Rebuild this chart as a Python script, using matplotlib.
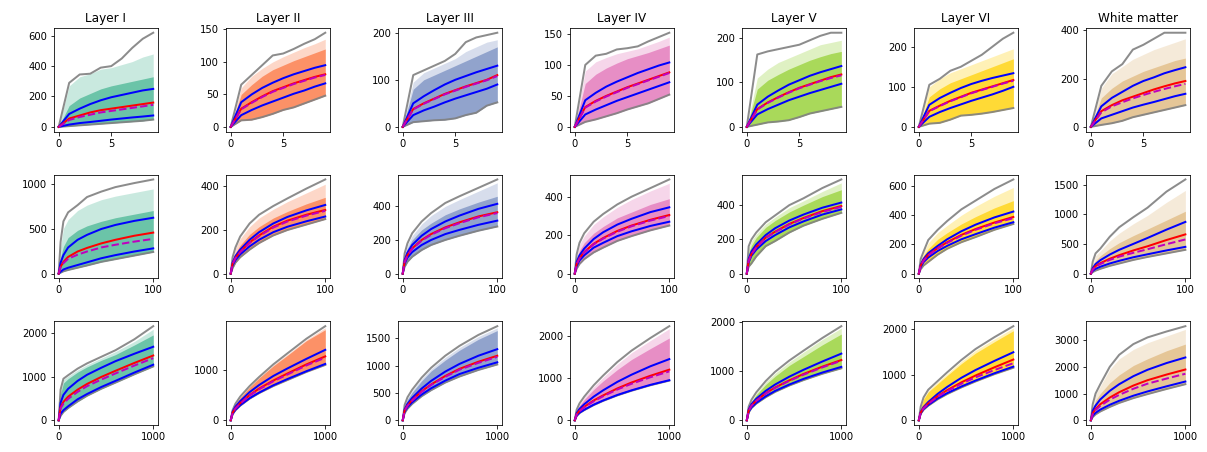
import matplotlib
matplotlib.use("Agg")
from matplotlib import pyplot

layers = ["Layer I", "Layer II", "Layer III", "Layer IV", "Layer V", "Layer VI", "White matter"]
colours = ["#66c2a5", "#fc8d62", "#8da0cb", "#e78ac3", "#a6d854", "#ffd92f", "#e5c494"]

# row 1: steps 0..9
x_short = [0, 1, 2, 3, 4, 5, 6, 7, 8, 9]
short_max = [
    [0, 290, 345, 350, 390, 400, 450, 520, 580, 620],
    [0, 65, 80, 95, 110, 113, 120, 128, 135, 145],
    [0, 110, 120, 130, 140, 155, 180, 190, 195, 200],
    [0, 100, 115, 118, 125, 127, 130, 138, 145, 152],
    [0, 163, 170, 175, 180, 185, 195, 205, 212, 212],
    [0, 105, 120, 140, 150, 165, 180, 200, 220, 235],
    [0, 170, 230, 260, 320, 340, 365, 390, 390, 390],
]
short_fan = [
    [0, 270, 330, 350, 380, 390, 410, 430, 460, 480],
    [0, 60, 78, 90, 100, 108, 115, 122, 128, 135],
    [0, 95, 115, 125, 135, 145, 160, 170, 180, 185],
    [0, 90, 105, 112, 118, 122, 126, 132, 138, 145],
    [0, 110, 130, 145, 155, 165, 175, 185, 190, 195],
    [0, 100, 120, 135, 145, 155, 165, 175, 185, 195],
    [0, 160, 220, 250, 280, 300, 320, 335, 350, 365],
]
short_dense = [
    [0, 140, 190, 220, 250, 270, 285, 300, 315, 330],
    [0, 50, 65, 78, 88, 95, 102, 108, 114, 120],
    [0, 80, 100, 110, 120, 130, 140, 150, 160, 170],
    [0, 70, 85, 95, 103, 110, 115, 120, 126, 132],
    [0, 85, 105, 118, 130, 140, 150, 158, 165, 170],
    [0, 75, 95, 110, 120, 130, 140, 150, 160, 170],
    [0, 120, 160, 190, 210, 230, 245, 260, 275, 285],
]
short_upper = [
    [0, 85, 120, 150, 175, 195, 210, 225, 240, 250],
    [0, 38, 50, 60, 68, 75, 81, 86, 91, 95],
    [0, 50, 65, 78, 90, 100, 108, 116, 123, 130],
    [0, 43, 55, 65, 73, 80, 87, 93, 99, 104],
    [0, 50, 68, 82, 95, 105, 115, 123, 130, 137],
    [0, 55, 72, 85, 97, 107, 115, 122, 128, 134],
    [0, 85, 120, 145, 170, 190, 205, 222, 235, 247],
]
short_mean = [
    [0, 55, 75, 95, 110, 120, 130, 140, 150, 160],
    [0, 28, 38, 47, 55, 61, 67, 72, 77, 81],
    [0, 38, 50, 60, 70, 78, 86, 93, 100, 110],
    [0, 32, 42, 50, 57, 64, 70, 76, 82, 88],
    [0, 40, 55, 67, 78, 88, 96, 104, 112, 118],
    [0, 40, 53, 65, 75, 85, 93, 101, 109, 117],
    [0, 65, 90, 110, 125, 140, 155, 168, 180, 190],
]
short_median = [
    [0, 45, 65, 80, 95, 105, 115, 125, 135, 145],
    [0, 27, 37, 46, 54, 60, 66, 71, 76, 80],
    [0, 37, 49, 59, 69, 77, 85, 92, 99, 108],
    [0, 31, 41, 49, 56, 63, 69, 75, 81, 87],
    [0, 39, 54, 66, 77, 87, 95, 103, 110, 116],
    [0, 39, 52, 64, 74, 84, 92, 100, 108, 115],
    [0, 60, 85, 102, 118, 132, 145, 157, 168, 178],
]
short_lower = [
    [0, 15, 25, 32, 40, 48, 55, 62, 68, 75],
    [0, 18, 26, 33, 39, 45, 51, 56, 62, 67],
    [0, 25, 35, 43, 52, 60, 67, 74, 81, 90],
    [0, 20, 28, 35, 42, 48, 54, 60, 66, 72],
    [0, 28, 40, 50, 60, 68, 76, 83, 90, 97],
    [0, 25, 37, 47, 56, 65, 73, 81, 90, 100],
    [0, 35, 50, 65, 80, 92, 103, 115, 127, 137],
]
short_min = [
    [0, 5, 10, 15, 20, 25, 30, 35, 40, 48],
    [0, 10, 11, 15, 20, 26, 30, 36, 42, 48],
    [0, 10, 12, 14, 15, 18, 25, 30, 45, 52],
    [0, 8, 12, 17, 22, 28, 33, 38, 45, 52],
    [0, 5, 10, 12, 15, 22, 30, 35, 40, 45],
    [0, 8, 10, 18, 28, 30, 33, 37, 42, 47],
    [0, 8, 15, 25, 40, 50, 60, 70, 80, 90],
]

# row 2: steps 0..100
x_mid = [0, 2, 5, 10, 20, 30, 45, 60, 80, 100]
mid_max = [
    [0, 350, 580, 680, 760, 850, 910, 960, 1005, 1045],
    [0, 75, 120, 170, 230, 270, 310, 345, 390, 432],
    [0, 120, 180, 240, 310, 360, 420, 460, 510, 560],
    [0, 100, 160, 210, 270, 310, 360, 400, 445, 490],
    [0, 160, 200, 240, 300, 340, 400, 440, 500, 550],
    [0, 100, 150, 230, 300, 360, 440, 500, 580, 645],
    [0, 200, 340, 420, 620, 780, 950, 1110, 1380, 1585],
]
mid_fan = [
    [0, 300, 500, 600, 700, 760, 820, 860, 900, 940],
    [0, 70, 115, 160, 215, 255, 295, 330, 370, 410],
    [0, 110, 170, 225, 295, 345, 400, 440, 490, 540],
    [0, 95, 150, 195, 255, 295, 345, 385, 430, 470],
    [0, 150, 190, 230, 290, 330, 385, 425, 480, 530],
    [0, 95, 145, 210, 280, 330, 400, 460, 530, 590],
    [0, 180, 300, 380, 550, 680, 840, 980, 1200, 1400],
]
mid_dense = [
    [0, 180, 300, 400, 480, 530, 580, 620, 660, 700],
    [0, 60, 95, 130, 180, 215, 255, 285, 320, 350],
    [0, 100, 150, 200, 260, 300, 350, 385, 425, 460],
    [0, 75, 120, 160, 210, 245, 290, 320, 360, 390],
    [0, 120, 165, 210, 270, 310, 360, 400, 450, 490],
    [0, 80, 125, 170, 235, 280, 340, 390, 450, 500],
    [0, 140, 220, 300, 420, 520, 640, 750, 900, 1050],
]
mid_upper = [
    [0, 120, 205, 290, 375, 430, 495, 540, 585, 620],
    [0, 50, 80, 110, 155, 190, 230, 260, 290, 315],
    [0, 80, 125, 170, 225, 265, 310, 345, 385, 415],
    [0, 60, 95, 130, 180, 215, 255, 285, 320, 345],
    [0, 85, 130, 170, 225, 265, 310, 345, 385, 415],
    [0, 60, 100, 140, 190, 235, 290, 335, 385, 425],
    [0, 90, 160, 225, 320, 400, 500, 600, 740, 870],
]
mid_mean = [
    [0, 75, 130, 185, 245, 285, 335, 375, 420, 455],
    [0, 45, 72, 100, 143, 175, 215, 243, 270, 292],
    [0, 70, 110, 150, 200, 235, 275, 305, 340, 365],
    [0, 50, 80, 112, 155, 185, 222, 250, 280, 305],
    [0, 75, 115, 155, 210, 245, 290, 325, 365, 395],
    [0, 55, 90, 128, 175, 215, 265, 305, 350, 388],
    [0, 70, 125, 175, 250, 310, 390, 460, 565, 660],
]
mid_median = [
    [0, 70, 115, 165, 210, 245, 290, 320, 355, 385],
    [0, 44, 70, 98, 140, 172, 211, 239, 266, 288],
    [0, 68, 108, 147, 196, 231, 270, 300, 335, 360],
    [0, 48, 78, 110, 152, 182, 218, 246, 276, 300],
    [0, 73, 113, 152, 207, 242, 287, 322, 360, 390],
    [0, 53, 88, 125, 172, 210, 260, 300, 345, 380],
    [0, 65, 115, 160, 230, 285, 350, 410, 495, 575],
]
mid_lower = [
    [0, 20, 45, 65, 95, 125, 170, 205, 245, 280],
    [0, 38, 62, 88, 125, 155, 190, 215, 240, 262],
    [0, 60, 95, 128, 170, 200, 235, 260, 290, 315],
    [0, 40, 68, 95, 135, 160, 195, 220, 248, 270],
    [0, 65, 105, 140, 190, 225, 270, 305, 345, 375],
    [0, 45, 78, 110, 155, 190, 235, 270, 315, 352],
    [0, 45, 80, 115, 170, 215, 275, 325, 390, 450],
]
mid_min = [
    [0, 10, 25, 40, 65, 90, 130, 160, 200, 240],
    [0, 25, 50, 75, 110, 140, 175, 200, 225, 250],
    [0, 40, 70, 100, 140, 170, 200, 225, 255, 280],
    [0, 25, 50, 75, 110, 135, 170, 195, 225, 250],
    [0, 40, 60, 100, 160, 190, 240, 280, 320, 355],
    [0, 30, 55, 80, 130, 170, 215, 250, 300, 340],
    [0, 25, 50, 80, 130, 170, 230, 280, 340, 400],
]

# row 3: steps 0..1000
x_long = [0, 20, 50, 100, 200, 300, 450, 600, 800, 1000]
long_max = [
    [0, 700, 950, 1030, 1180, 1300, 1450, 1600, 1850, 2150],
    [0, 200, 330, 470, 680, 860, 1110, 1330, 1620, 1870],
    [0, 280, 420, 560, 780, 960, 1180, 1360, 1560, 1720],
    [0, 250, 400, 560, 830, 1060, 1380, 1650, 1950, 2230],
    [0, 280, 420, 570, 800, 990, 1220, 1420, 1680, 1920],
    [0, 300, 500, 670, 860, 1050, 1320, 1560, 1820, 2060],
    [0, 600, 1000, 1350, 2000, 2450, 2850, 3100, 3320, 3520],
]
long_fan = [
    [0, 680, 930, 1010, 1150, 1270, 1420, 1570, 1800, 2080],
    [0, 195, 320, 460, 670, 850, 1100, 1310, 1600, 1840],
    [0, 270, 400, 540, 760, 940, 1150, 1330, 1530, 1690],
    [0, 240, 380, 540, 800, 1020, 1330, 1600, 1890, 2170],
    [0, 270, 405, 550, 780, 960, 1190, 1390, 1650, 1880],
    [0, 290, 480, 650, 840, 1020, 1290, 1530, 1780, 2020],
    [0, 560, 950, 1280, 1900, 2300, 2650, 2900, 3150, 3400],
]
long_dense = [
    [0, 600, 850, 950, 1100, 1220, 1370, 1500, 1720, 1950],
    [0, 190, 315, 450, 660, 840, 1080, 1290, 1580, 1800],
    [0, 250, 380, 510, 720, 900, 1100, 1280, 1480, 1640],
    [0, 220, 350, 490, 730, 930, 1200, 1440, 1700, 1950],
    [0, 250, 380, 520, 730, 900, 1120, 1300, 1540, 1760],
    [0, 280, 460, 620, 800, 980, 1240, 1470, 1720, 1960],
    [0, 450, 750, 1000, 1400, 1700, 2050, 2300, 2600, 2850],
]
long_upper = [
    [0, 400, 580, 720, 900, 1040, 1200, 1350, 1520, 1680],
    [0, 170, 270, 380, 560, 700, 880, 1030, 1220, 1400],
    [0, 200, 300, 410, 580, 720, 890, 1030, 1180, 1300],
    [0, 170, 270, 380, 560, 710, 910, 1080, 1280, 1450],
    [0, 220, 330, 440, 600, 730, 890, 1030, 1200, 1360],
    [0, 180, 290, 400, 580, 730, 930, 1100, 1300, 1490],
    [0, 350, 550, 780, 1100, 1350, 1650, 1890, 2140, 2350],
]
long_mean = [
    [0, 300, 420, 540, 700, 830, 990, 1130, 1310, 1480],
    [0, 150, 240, 340, 500, 630, 790, 930, 1110, 1270],
    [0, 180, 270, 370, 530, 655, 810, 940, 1070, 1180],
    [0, 140, 225, 320, 470, 590, 755, 895, 1055, 1200],
    [0, 200, 300, 400, 550, 670, 815, 945, 1095, 1230],
    [0, 170, 270, 370, 530, 660, 830, 980, 1160, 1330],
    [0, 260, 420, 600, 850, 1050, 1300, 1500, 1710, 1900],
]
long_median = [
    [0, 270, 380, 490, 650, 780, 930, 1070, 1250, 1420],
    [0, 145, 235, 330, 490, 615, 775, 910, 1090, 1245],
    [0, 175, 265, 360, 520, 645, 795, 925, 1050, 1160],
    [0, 135, 215, 305, 450, 570, 730, 865, 1020, 1160],
    [0, 195, 295, 395, 545, 660, 805, 930, 1080, 1215],
    [0, 165, 262, 360, 515, 640, 800, 940, 1100, 1250],
    [0, 230, 380, 540, 770, 950, 1180, 1370, 1560, 1740],
]
long_lower = [
    [0, 150, 230, 320, 480, 600, 760, 900, 1090, 1270],
    [0, 130, 210, 300, 440, 550, 695, 820, 975, 1120],
    [0, 160, 240, 330, 470, 585, 725, 845, 960, 1060],
    [0, 110, 180, 250, 370, 470, 600, 710, 840, 950],
    [0, 175, 265, 355, 490, 600, 730, 845, 975, 1090],
    [0, 155, 245, 335, 480, 595, 740, 870, 1030, 1175],
    [0, 170, 280, 400, 580, 730, 920, 1080, 1270, 1450],
]
long_min = [
    [0, 100, 190, 280, 430, 560, 720, 860, 1050, 1230],
    [0, 120, 200, 290, 430, 540, 680, 800, 960, 1100],
    [0, 130, 210, 300, 440, 550, 690, 800, 920, 1020],
    [0, 100, 170, 240, 360, 460, 590, 700, 830, 940],
    [0, 160, 250, 340, 470, 580, 710, 820, 950, 1060],
    [0, 140, 230, 320, 460, 575, 720, 850, 1010, 1150],
    [0, 120, 220, 330, 500, 650, 830, 980, 1170, 1350],
]

yticks_short = [[0, 200, 400, 600], [0, 50, 100, 150], [0, 100, 200], [0, 50, 100, 150],
                [0, 100, 200], [0, 100, 200], [0, 200, 400]]
yticks_mid = [[0, 500, 1000], [0, 200, 400], [0, 200, 400], [0, 200, 400],
              [0, 200, 400], [0, 200, 400, 600], [0, 500, 1000, 1500]]
yticks_long = [[0, 1000, 2000], [0, 1000], [0, 500, 1000, 1500], [0, 1000, 2000],
               [0, 1000, 2000], [0, 1000, 2000], [0, 1000, 2000, 3000]]

rows = [
    (x_short, short_max, short_fan, short_dense, short_upper, short_mean, short_median, short_lower, short_min, yticks_short, [0, 5]),
    (x_mid, mid_max, mid_fan, mid_dense, mid_upper, mid_mean, mid_median, mid_lower, mid_min, yticks_mid, [0, 100]),
    (x_long, long_max, long_fan, long_dense, long_upper, long_mean, long_median, long_lower, long_min, yticks_long, [0, 1000]),
]

figure, axes = pyplot.subplots(3, 7, figsize=(1207 / 72, 452 / 72), dpi=72)
figure.subplots_adjust(left=0.0447, right=0.986, bottom=0.0597, top=0.938,
                       wspace=0.654, hspace=0.417)

for r, (x, ymax, yfan, ydense, yup, ymean, ymed, ylow, ymin, yticks, xticks) in enumerate(rows):
    for c in range(7):
        ax = axes[r, c]
        colour = colours[c]
        # faint outer part of the fan of trajectories, then the dense core
        ax.fill_between(x, ymin[c], yfan[c], color=colour, alpha=0.35, lw=0)
        ax.fill_between(x, ymin[c], ydense[c], color=colour, alpha=0.95, lw=0)
        ax.plot(x, ymax[c], color="grey", lw=2, alpha=0.9)
        ax.plot(x, ymin[c], color="grey", lw=2, alpha=0.9)
        ax.plot(x, yup[c], color="b", lw=2)
        ax.plot(x, ylow[c], color="b", lw=2)
        ax.plot(x, ymean[c], color="r", lw=2)
        ax.plot(x, ymed[c], "m--", lw=2)
        ax.set_xticks(xticks)
        ax.set_yticks(yticks[c])
        if r == 0:
            ax.set_title(layers[c], fontsize=12)

pyplot.savefig("out.png", dpi=72)
